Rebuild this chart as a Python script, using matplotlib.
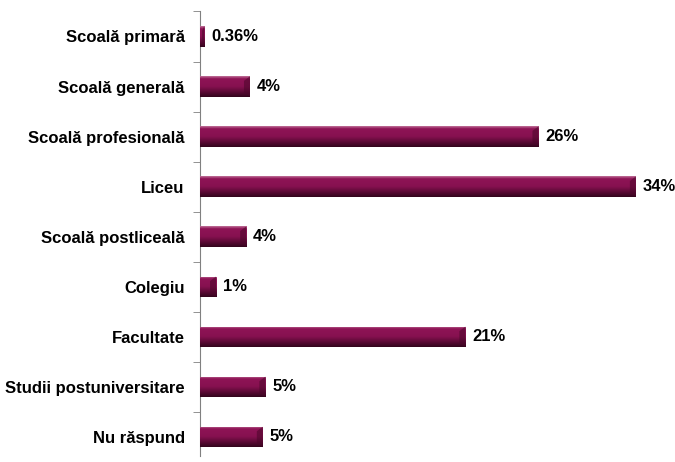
import numpy as np
import matplotlib.pyplot as plt
from matplotlib.colors import LinearSegmentedColormap
from matplotlib.patches import Polygon

categories = ['Scoală primară', 'Scoală generală', 'Scoală profesională', 'Liceu',
              'Scoală postliceală', 'Colegiu', 'Facultate', 'Studii postuniversitare',
              'Nu răspund']
# bar lengths (labels are the printed ones)
values = [0.33, 3.9, 26.4, 34, 3.6, 1.25, 20.7, 5.1, 4.9]
labels = ['0.36%', '4%', '26%', '34%', '4%', '1%', '21%', '5%', '5%']

plt.rcParams['font.family'] = ['Liberation Sans', 'DejaVu Sans']

fig = plt.figure(figsize=(6.75, 4.62), dpi=100)
ax = fig.add_axes([200 / 675, 0, 455 / 675, 1])

# shading of the bars, top to bottom
cmap = LinearSegmentedColormap.from_list('bar', [
    (0.0, '#c07098'), (0.12, '#8e1456'), (0.5, '#861150'),
    (0.75, '#5c0a36'), (1.0, '#33041c')])
grad = np.linspace(0, 1, 64).reshape(-1, 1)

y = np.arange(len(categories))
h = 0.41
px = 1 / 12.82  # one pixel in data units along x
bars = ax.barh(y, values, height=h, color='#861150', edgecolor='none', zorder=2)
for b in bars:
    x0, y0 = b.get_x(), b.get_y()
    x1 = x0 + b.get_width()
    im = ax.imshow(grad, cmap=cmap, aspect='auto', zorder=3,
                   extent=(x0, x1, y0 + h, y0), interpolation='bilinear')
    im.set_clip_path(b)
    # bevelled right end
    w = min(6 * px, b.get_width() * 0.5)
    d = h * 0.22
    cap = Polygon([(x1 - w, y0 + d), (x1, y0), (x1, y0 + h), (x1 - w, y0 + h - d)],
                  closed=True, facecolor='#4a0629', alpha=0.55, edgecolor='none', zorder=4)
    ax.add_patch(cap)

for i, (v, t) in enumerate(zip(values, labels)):
    ax.text(v + 7 * px, i, t, va='center', ha='left', fontsize=12, fontweight='bold',
            color='black')

ax.set_xlim(0, 455 * px)
ax.set_ylim((462 - 37) / 50.75, -37 / 50.75)
ax.set_yticks(y)
ax.set_yticklabels(categories, fontsize=12, fontweight='bold')
ax.set_yticks(np.arange(-0.5, len(categories), 1), minor=True)
ax.tick_params(axis='y', which='major', length=0, pad=11)
ax.tick_params(axis='y', which='minor', length=5, color='#808080')
ax.set_xticks([])
for s in ['top', 'right', 'bottom']:
    ax.spines[s].set_visible(False)
ax.spines['left'].set_color('#808080')
ax.spines['left'].set_bounds(-0.5, (462 - 37) / 50.75)

fig.savefig('out.png', dpi=100)
